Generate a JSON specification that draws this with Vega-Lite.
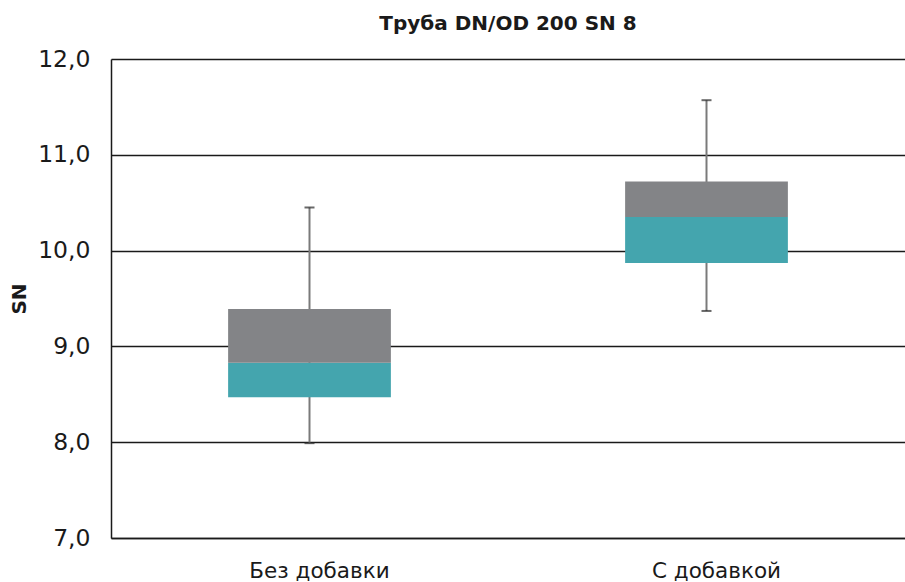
{
  "$schema": "https://vega.github.io/schema/vega-lite/v6.json",
  "width": 794,
  "height": 479,
  "autosize": {"type": "none"},
  "padding": {"left": 111, "top": 59, "right": 0, "bottom": 44},
  "background": "white",
  "title": {
    "text": "Труба DN/OD 200 SN 8",
    "font": "DejaVu Sans",
    "fontSize": 20,
    "fontWeight": "bold",
    "color": "#1a1a1a",
    "anchor": "middle",
    "offset": 13
  },
  "config": {
    "view": {"stroke": null},
    "font": "DejaVu Sans"
  },
  "data": {
    "values": [
      {"group": "Без добавки", "min": 7.99, "q1": 8.47, "median": 8.83, "q3": 9.39, "max": 10.45},
      {"group": "С добавкой", "min": 9.37, "q1": 9.87, "median": 10.35, "q3": 10.72, "max": 11.57}
    ]
  },
  "encoding": {
    "x": {
      "field": "group",
      "type": "nominal",
      "sort": null,
      "scale": {"paddingInner": 0, "paddingOuter": 0},
      "axis": {
        "title": null,
        "labelAngle": 0,
        "labelFont": "DejaVu Sans",
        "labelFontSize": 21.5,
        "labelColor": "#1a1a1a",
        "labelPadding": 22,
        "labelOffset": 10,
        "ticks": false,
        "domainColor": "#1a1a1a",
        "domainWidth": 1.5,
        "grid": false
      }
    }
  },
  "layer": [
    {
      "mark": {"type": "rule", "color": "#7a7a7a", "strokeWidth": 2},
      "encoding": {
        "y": {
          "field": "min",
          "type": "quantitative",
          "scale": {"domain": [7, 12], "nice": false, "zero": false},
          "axis": {
            "title": "SN",
            "titleFont": "DejaVu Sans",
            "titleFontSize": 20,
            "titleFontWeight": "bold",
            "titleColor": "#1a1a1a",
            "titlePadding": 8,
            "values": [7, 8, 9, 10, 11, 12],
            "labelExpr": "replace(format(datum.value, '.1f'), '.', ',')",
            "labelFont": "DejaVu Sans",
            "labelFontSize": 23.5,
            "labelColor": "#1a1a1a",
            "labelPadding": 21,
            "ticks": false,
            "domainColor": "#1a1a1a",
            "domainWidth": 1.5,
            "grid": true,
            "gridColor": "#1a1a1a",
            "gridWidth": 1.5,
            "gridOpacity": 1
          }
        },
        "y2": {"field": "max"}
      }
    },
    {
      "mark": {"type": "bar", "color": "#44a5ae", "width": {"band": 0.41}},
      "encoding": {
        "y": {"field": "q1", "type": "quantitative"},
        "y2": {"field": "median"}
      }
    },
    {
      "mark": {"type": "bar", "color": "#838487", "width": {"band": 0.41}},
      "encoding": {
        "y": {"field": "median", "type": "quantitative"},
        "y2": {"field": "q3"}
      }
    },
    {
      "mark": {"type": "tick", "color": "#2a2a2a", "size": 10, "thickness": 2},
      "encoding": {"y": {"field": "min", "type": "quantitative"}}
    },
    {
      "mark": {"type": "tick", "color": "#2a2a2a", "size": 10, "thickness": 2},
      "encoding": {"y": {"field": "max", "type": "quantitative"}}
    }
  ]
}
